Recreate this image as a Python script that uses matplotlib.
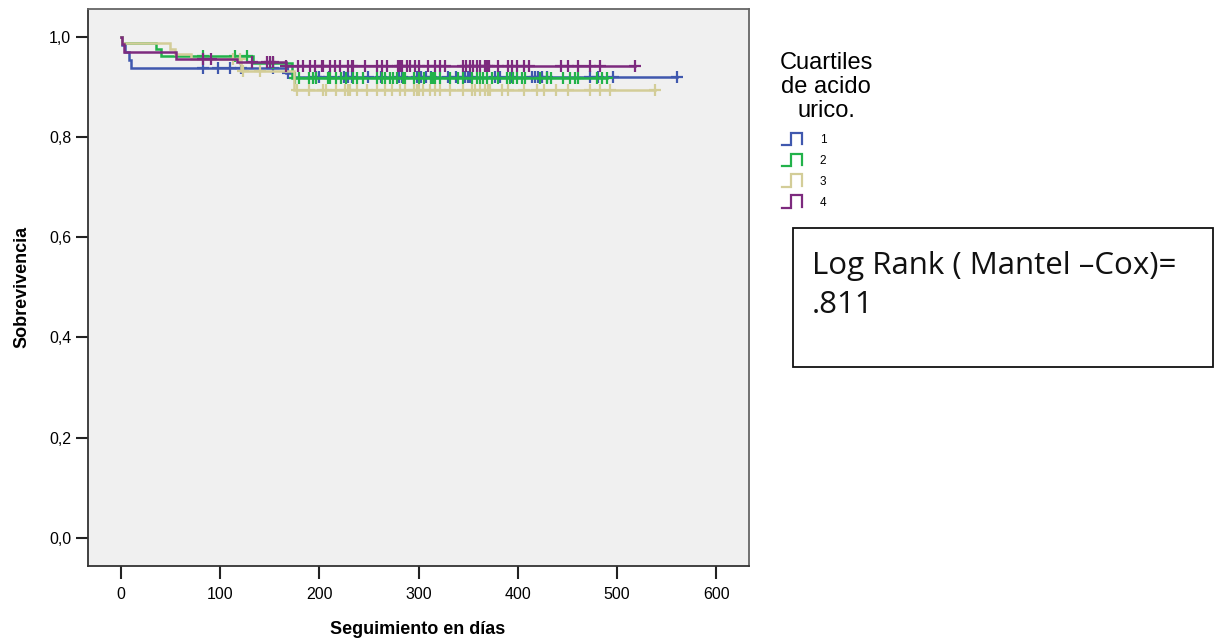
import numpy as np
import matplotlib
matplotlib.use("Agg")
import matplotlib.pyplot as plt
from matplotlib.lines import Line2D
from matplotlib.legend_handler import HandlerBase
from matplotlib.patches import Rectangle

# ---------------- data ----------------
groups = ["1", "2", "3", "4"]
colors = ["#4058ae", "#22b24a", "#d3cd98", "#7d2a7e"]

# event times (days) and survival after each event (first entry is t=0, S=1)
ev_t_1 = [0, 1, 4, 8, 10, 167, 174]
ev_s_1 = [1.0, 0.984, 0.969, 0.953, 0.938, 0.928, 0.919]
ev_t_2 = [0, 1, 36, 41, 133, 173]
ev_s_2 = [1.0, 0.988, 0.975, 0.962, 0.948, 0.917]
ev_t_3 = [0, 1, 50, 55, 71, 121, 175]
ev_s_3 = [1.0, 0.988, 0.976, 0.965, 0.955, 0.932, 0.893]
ev_t_4 = [0, 1, 3, 56, 117, 167]
ev_s_4 = [1.0, 0.985, 0.970, 0.956, 0.949, 0.942]

# censored times (days)
cens_1 = [83, 98, 110, 121, 153, 169, 197, 200, 210, 225, 229, 233, 249, 262,
          280, 283, 298, 303, 308, 313, 330, 338, 347, 350, 352, 377, 382, 394,
          414, 417, 420, 424, 429, 473, 481, 496, 560]
cens_2 = [83, 115, 127, 153, 176, 180, 190, 194, 197, 209, 211, 217, 222, 227,
          234, 238, 244, 258, 263, 266, 271, 274, 278, 284, 286, 295, 300, 306,
          313, 315, 317, 322, 332, 340, 345, 354, 359, 362, 365, 369, 374, 380,
          389, 392, 395, 399, 404, 407, 422, 429, 434, 446, 453, 458, 461, 480,
          485, 490]
cens_3 = [113, 120, 123, 140, 178, 190, 204, 207, 217, 226, 229, 231, 238, 248,
          258, 266, 273, 281, 286, 295, 298, 301, 305, 312, 317, 322, 332, 345,
          354, 357, 362, 367, 370, 372, 384, 390, 406, 419, 426, 439, 451, 473,
          483, 493, 538]
cens_4 = [83, 91, 132, 147, 150, 153, 167, 179, 184, 191, 196, 203, 204, 211,
          216, 221, 229, 233, 234, 246, 258, 263, 268, 279, 281, 283, 288, 291,
          296, 301, 310, 317, 322, 327, 345, 348, 352, 355, 359, 362, 367, 369,
          371, 380, 390, 394, 399, 406, 411, 444, 451, 461, 473, 483, 518]

ev_t = [ev_t_1, ev_t_2, ev_t_3, ev_t_4]
ev_s = [ev_s_1, ev_s_2, ev_s_3, ev_s_4]
cens = [cens_1, cens_2, cens_3, cens_4]

xticks = [0, 100, 200, 300, 400, 500, 600]
yticks = [0.0, 0.2, 0.4, 0.6, 0.8, 1.0]
ytick_labels = ["0,0", "0,2", "0,4", "0,6", "0,8", "1,0"]

# ---------------- figure ----------------
W, H = 1215, 643
fig = plt.figure(figsize=(W / 100, H / 100), dpi=100)
fig.patch.set_facecolor("white")

def fx(px):
    return px / W

def fy(py):
    return 1 - py / H

ax = fig.add_axes([fx(88), fy(566), fx(749) - fx(88), fy(8.5) - fy(566)])
ax.set_facecolor("#f0f0f0")

for t, s, c, col in zip(ev_t, ev_s, cens, colors):
    t = np.asarray(t, float)
    s = np.asarray(s, float)
    c = np.asarray(c, float)
    tend = max(c.max(), t.max())
    tt = np.append(t, tend)
    ss = np.append(s, s[-1])
    ax.step(tt, ss, where="post", color=col, lw=1.8, solid_joinstyle="miter")
    idx = np.searchsorted(t, c, side="right") - 1
    ax.plot(c, s[idx], linestyle="none", marker="+", markersize=9,
            markeredgewidth=1.6, color=col)

ax.set_xlim(-33, 633)
ax.set_ylim(-0.056, 1.056)
ax.set_xticks(xticks)
ax.set_xticklabels([str(v) for v in xticks])
ax.set_yticks(yticks)
ax.set_yticklabels(ytick_labels)
ax.tick_params(axis="both", direction="out", length=9, width=1.5,
               labelsize=11.5, pad=3, color="#222222")
ax.tick_params(axis="x", pad=6)
for lab in ax.get_xticklabels() + ax.get_yticklabels():
    lab.set_family("Liberation Sans")
for name, sp in ax.spines.items():
    sp.set_color("#333333" if name in ("left", "bottom") else "#666666")
    sp.set_linewidth(1.3)

fig.text(fx(418), fy(630), "Seguimiento en días", ha="center", va="center",
         fontsize=13, fontweight="bold", family="Liberation Sans")
fig.text(fx(22), fy(287), "Sobrevivencia", ha="center", va="center",
         rotation=90, fontsize=13, fontweight="bold", family="Liberation Sans")

# ---------------- legend ----------------
class StepHandler(HandlerBase):
    def create_artists(self, legend, orig_handle, xdescent, ydescent, width,
                       height, fontsize, trans):
        xs = np.array([0.0, 0.45, 0.45, 1.0, 1.0]) * width - xdescent
        ys = np.array([-0.3, -0.3, 1.25, 1.25, -0.15]) * height - ydescent
        ln = Line2D(xs, ys, color=orig_handle.get_color(), lw=1.6,
                    solid_joinstyle="miter")
        ln.set_transform(trans)
        return [ln]

handles = [Line2D([], [], color=col) for col in colors]
fig.text(fx(826), fy(52), "Cuartiles\nde acido\nurico.", ha="center",
         va="top", multialignment="center", fontsize=17, linespacing=1.12,
         family="Liberation Sans")
leg = fig.legend(handles, groups, loc="upper left",
                 bbox_to_anchor=(fx(782), fy(134)), frameon=False,
                 handlelength=1.7, handletextpad=1.5,
                 labelspacing=0.75, borderpad=0, borderaxespad=0,
                 handler_map={Line2D: StepHandler()},
                 prop={"family": "Liberation Sans", "size": 8.5})

# ---------------- log rank box ----------------
fig.add_artist(Rectangle((fx(793), fy(367)), fx(1213) - fx(793),
                         fy(228) - fy(367), transform=fig.transFigure,
                         fill=False, edgecolor="#111111", lw=1.3))
fig.text(fx(812), fy(274), "Log Rank ( Mantel \u2013Cox)=", ha="left",
         va="baseline", fontsize=22.5, family="Open Sans", color="#111111")
fig.text(fx(812), fy(313), ".811", ha="left", va="baseline", fontsize=22.5,
         family="Open Sans", color="#111111")

fig.savefig("out.png", dpi=100, facecolor="white")
